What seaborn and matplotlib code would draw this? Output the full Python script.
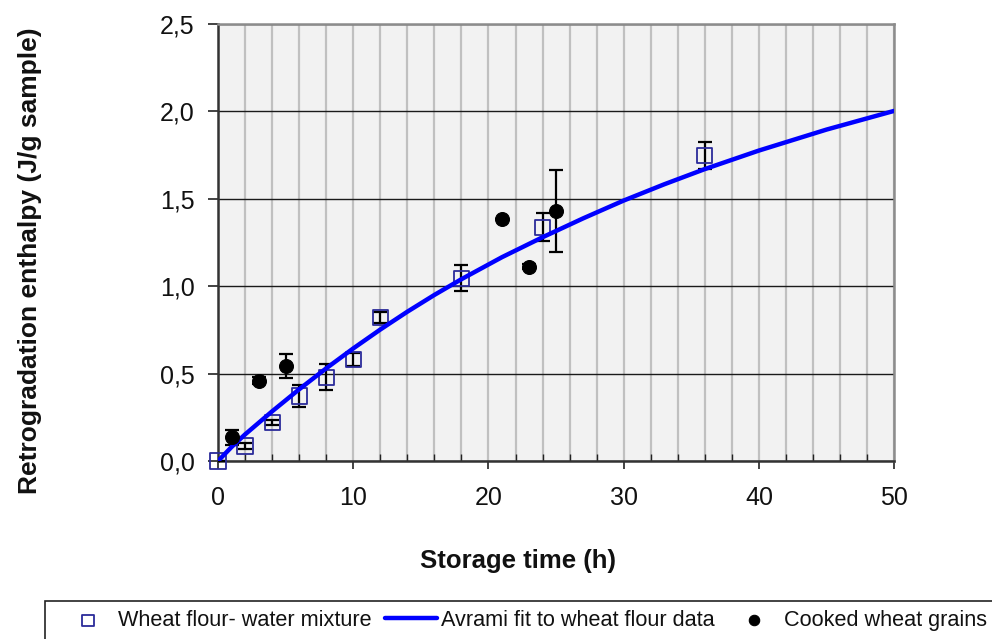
import numpy as np
import pandas as pd
import matplotlib
matplotlib.use("Agg")
import matplotlib.pyplot as plt
import seaborn as sns
from matplotlib.ticker import MultipleLocator, FuncFormatter
from matplotlib.patches import Rectangle

# wheat flour - water mixture (hollow squares)
flour_time = [0, 2, 4, 6, 8, 10, 12, 18, 24, 36]
flour_dh = [0.0, 0.086, 0.22, 0.372, 0.479, 0.582, 0.822, 1.045, 1.337, 1.747]
flour_err = [0.0, 0.015, 0.016, 0.062, 0.074, 0.038, 0.033, 0.074, 0.081, 0.076]

# cooked wheat grains (black dots)
grain_time = [1, 3, 5, 21, 23, 25]
grain_dh = [0.136, 0.458, 0.545, 1.383, 1.112, 1.432]
grain_err = [0.043, 0.02, 0.069, 0.0, 0.015, 0.235]

# Avrami fit
fit_time = [0, 1, 2, 4, 6, 8, 10, 12, 14, 16, 18, 21, 24, 27, 30, 33, 36, 40, 45, 50]
fit_dh = [0.0, 0.08, 0.152, 0.284, 0.41, 0.53, 0.644, 0.752, 0.854, 0.95, 1.04,
          1.166, 1.28, 1.388, 1.49, 1.583, 1.67, 1.776, 1.896, 2.003]

sns.set_theme(style="white")
plt.rcParams['font.family'] = ['Liberation Sans', 'DejaVu Sans']

fig = plt.figure(figsize=(9.92, 6.39), dpi=100)
ax = fig.add_axes([0.2198, 0.2786, 0.6815, 0.6838])
ax.set_facecolor('#f2f2f2')

flour = pd.DataFrame({'t': flour_time, 'dh': flour_dh, 'err': flour_err})
grain = pd.DataFrame({'t': grain_time, 'dh': grain_dh, 'err': grain_err})
fit = pd.DataFrame({'t': fit_time, 'dh': fit_dh})

# grid
ax.xaxis.set_major_locator(MultipleLocator(10))
ax.xaxis.set_minor_locator(MultipleLocator(2))
ax.yaxis.set_major_locator(MultipleLocator(0.5))
ax.grid(which='minor', axis='x', color='#c0c0c0', linewidth=1.6)
ax.grid(which='major', axis='x', color='#c0c0c0', linewidth=1.6)
ax.grid(which='major', axis='y', color='#1a1a1a', linewidth=1.0)
ax.set_axisbelow(True)

ax.errorbar(flour['t'], flour['dh'], yerr=flour['err'], fmt='none', ecolor='black',
            elinewidth=1.6, capsize=4.8, capthick=1.6, zorder=3)
ax.errorbar(grain['t'], grain['dh'], yerr=grain['err'], fmt='none', ecolor='black',
            elinewidth=1.6, capsize=4.8, capthick=1.6, zorder=3)

sns.scatterplot(data=flour, x='t', y='dh', ax=ax, marker='s', s=120, facecolor='none',
                edgecolor='#2b2b9a', linewidth=1.3, zorder=4, clip_on=False,
                label='Wheat flour- water mixture')
sns.lineplot(data=fit, x='t', y='dh', ax=ax, color='#0000ff', linewidth=3.2, zorder=5,
             label='Avrami fit to wheat flour data')
sns.scatterplot(data=grain, x='t', y='dh', ax=ax, marker='o', s=100, color='black',
                edgecolor='black', zorder=6, label='Cooked wheat grains')

ax.set_xlim(0, 50)
ax.set_ylim(0, 2.5)
ax.yaxis.set_major_formatter(FuncFormatter(lambda v, p: f"{v:.1f}".replace('.', ',')))

ax.tick_params(axis='y', which='major', direction='out', length=7, width=1.2, color='#222222',
               labelsize=18, labelcolor='#111111', pad=10, left=True)
ax.tick_params(axis='x', which='major', direction='out', length=6, width=1.2, color='#222222',
               labelsize=18, labelcolor='#111111', pad=12, bottom=True)
ax.tick_params(axis='x', which='minor', direction='in', length=5, width=1.0, color='#222222', bottom=True)

for side in ['left', 'bottom']:
    ax.spines[side].set_color('#333333')
    ax.spines[side].set_linewidth(1.8)
for side in ['top', 'right']:
    ax.spines[side].set_visible(True)
    ax.spines[side].set_color('#8c8c8c')
    ax.spines[side].set_linewidth(1.8)

ax.set_xlabel('Storage time (h)', fontsize=18.5, fontweight='bold', color='#111111')
ax.xaxis.set_label_coords(0.444, -0.229)
ax.xaxis.label.set_va('center')
ax.set_ylabel('')
fig.text(30 / 992, 0.5915, 'Retrogradation enthalpy (J/g sample)', rotation=90,
         ha='center', va='center', fontsize=19, fontweight='bold', color='#111111')

# legend, in a box running off the figure edge
handles, labels = ax.get_legend_handles_labels()
ax.get_legend().remove()
leg = fig.legend(handles, labels, loc='center left', bbox_to_anchor=(62 / 992, 0.029),
                 ncol=3, frameon=False, fontsize=15.6, handlelength=2.4, handletextpad=0.2,
                 columnspacing=0.6, borderpad=0, borderaxespad=0, markerscale=0.75)
for t in leg.get_texts():
    t.set_color('#111111')
fig.patches.append(Rectangle((45 / 992, -0.05), 1.0, 0.05 + 38 / 639, transform=fig.transFigure,
                             fill=False, edgecolor='#222222', linewidth=1.2))

fig.savefig('out.png', dpi=100)
